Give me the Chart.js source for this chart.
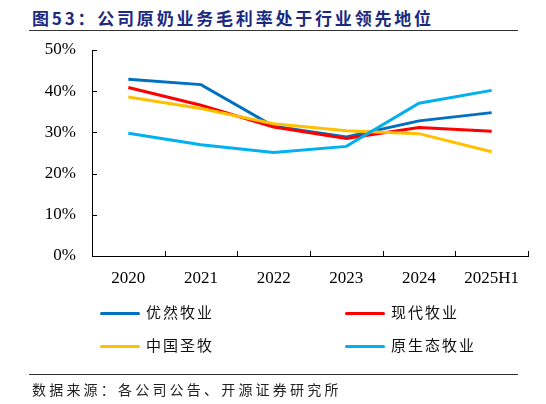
<!DOCTYPE html>
<html>
<head>
<meta charset="utf-8">
<script src="https://cdn.jsdelivr.net/npm/chart.js@4/dist/chart.umd.min.js"></script>
<style>
  body { margin: 0; background: #fff; }
  #wrap { position: relative; width: 546px; height: 404px; overflow: hidden; }
  #chart { position: absolute; left: 0; top: 0; }
  .title { position: absolute; left: 32px; top: 5px; font-family: "Noto Sans CJK SC", sans-serif; font-weight: bold; font-size: 17px; letter-spacing: 2.8px; color: #1B2A80; white-space: nowrap; }
  .rule { position: absolute; left: 29px; width: 489px; height: 1px; background: #333; }
  .source { position: absolute; left: 32px; top: 379px; font-family: "Noto Sans CJK SC", sans-serif; font-size: 14px; letter-spacing: 3.2px; color: #222; white-space: nowrap; }
  .leg { position: absolute; font-family: "Noto Sans CJK SC", sans-serif; font-size: 15px; color: #111; white-space: nowrap; letter-spacing: 2px; }
  .leg i { display: inline-block; width: 40px; height: 3px; border-radius: 2px; vertical-align: middle; margin-right: 6px; }
</style>
</head>
<body>
<div id="wrap">
  <div class="title">图53：公司原奶业务毛利率处于行业领先地位</div>
  <div class="rule" style="top:30px"></div>
  <canvas id="chart" width="546" height="404"></canvas>
  <div id="legend"></div>
  <div class="rule" style="top:374px"></div>
  <div class="source">数据来源：各公司公告、开源证券研究所</div>
</div>
<script>
// Years
const categories = ['2020', '2021', '2022', '2023', '2024', '2025H1'];

// Gross margin of raw milk business (%)
const youran = [42.9, 41.6, 31.5, 28.9, 32.8, 34.8];
const xiandai = [40.9, 36.6, 31.3, 28.5, 31.2, 30.3];
const shengmu = [38.6, 35.8, 32.1, 30.4, 29.7, 25.3];
const yuanshengtai = [29.8, 27.0, 25.1, 26.6, 37.1, 40.2];

const seriesNames = ['优然牧业', '现代牧业', '中国圣牧', '原生态牧业'];
const seriesColors = ['#0070C0', '#FF0000', '#FFC000', '#00B0F0'];
const yTicks = [0, 10, 20, 30, 40, 50];

// Legend (2 columns)
const legendPos = [[100, 301], [345, 301], [100, 334], [345, 334]];
const legendEl = document.getElementById('legend');
seriesNames.forEach((name, i) => {
    const d = document.createElement('div');
    d.className = 'leg';
    d.style.left = legendPos[i][0] + 'px';
    d.style.top = legendPos[i][1] + 'px';
    d.innerHTML = '<i style="background:' + seriesColors[i] + '"></i>' + name;
    legendEl.appendChild(d);
});

// Inward tick marks
const innerTicks = {
    id: 'innerTicks',
    afterDraw(chart) {
        const ctx = chart.ctx;
        const a = chart.chartArea;
        const y = chart.scales.y;
        ctx.save();
        ctx.strokeStyle = '#000';
        ctx.lineWidth = 1;
        ctx.beginPath();
        yTicks.forEach(v => {
            const py = Math.round(y.getPixelForValue(v)) + 0.5;
            ctx.moveTo(a.left, py);
            ctx.lineTo(a.left + 5, py);
        });
        const n = categories.length;
        for (let i = 1; i <= n; i++) {
            const px = Math.round(a.left + i * (a.right - a.left) / n) + 0.5;
            ctx.moveTo(px, a.bottom);
            ctx.lineTo(px, a.bottom - 5);
        }
        ctx.stroke();
        ctx.restore();
    }
};

const allSeries = [youran, xiandai, shengmu, yuanshengtai];

new Chart(document.getElementById('chart'), {
    type: 'line',
    data: {
        labels: categories,
        datasets: allSeries.map((data, i) => ({
            label: seriesNames[i],
            data: data,
            borderColor: seriesColors[i],
            backgroundColor: seriesColors[i],
            borderWidth: 3,
            pointRadius: 0,
            tension: 0,
            order: 3 - i
        }))
    },
    options: {
        responsive: false,
        animation: false,
        events: [],
        layout: { padding: { left: 0, right: 18, top: 50, bottom: 0 } },
        plugins: {
            legend: { display: false },
            tooltip: { enabled: false }
        },
        scales: {
            x: {
                offset: true,
                grid: { display: false, drawTicks: false },
                border: { display: true, color: '#000', width: 1 },
                ticks: {
                    color: '#000',
                    padding: 12,
                    maxRotation: 0,
                    font: { family: 'Liberation Serif', size: 17 }
                },
                afterFit(scale) { scale.height = 148; }
            },
            y: {
                min: 0,
                max: 50,
                afterBuildTicks(scale) { scale.ticks = yTicks.map(v => ({ value: v })); },
                grid: { display: false, drawTicks: false },
                border: { display: true, color: '#000', width: 1 },
                ticks: {
                    color: '#000',
                    padding: 16,
                    font: { family: 'Liberation Serif', size: 17 },
                    callback: v => v + '%'
                },
                afterFit(scale) { scale.width = 92; }
            }
        }
    },
    plugins: [innerTicks]
});
</script>
</body>
</html>
